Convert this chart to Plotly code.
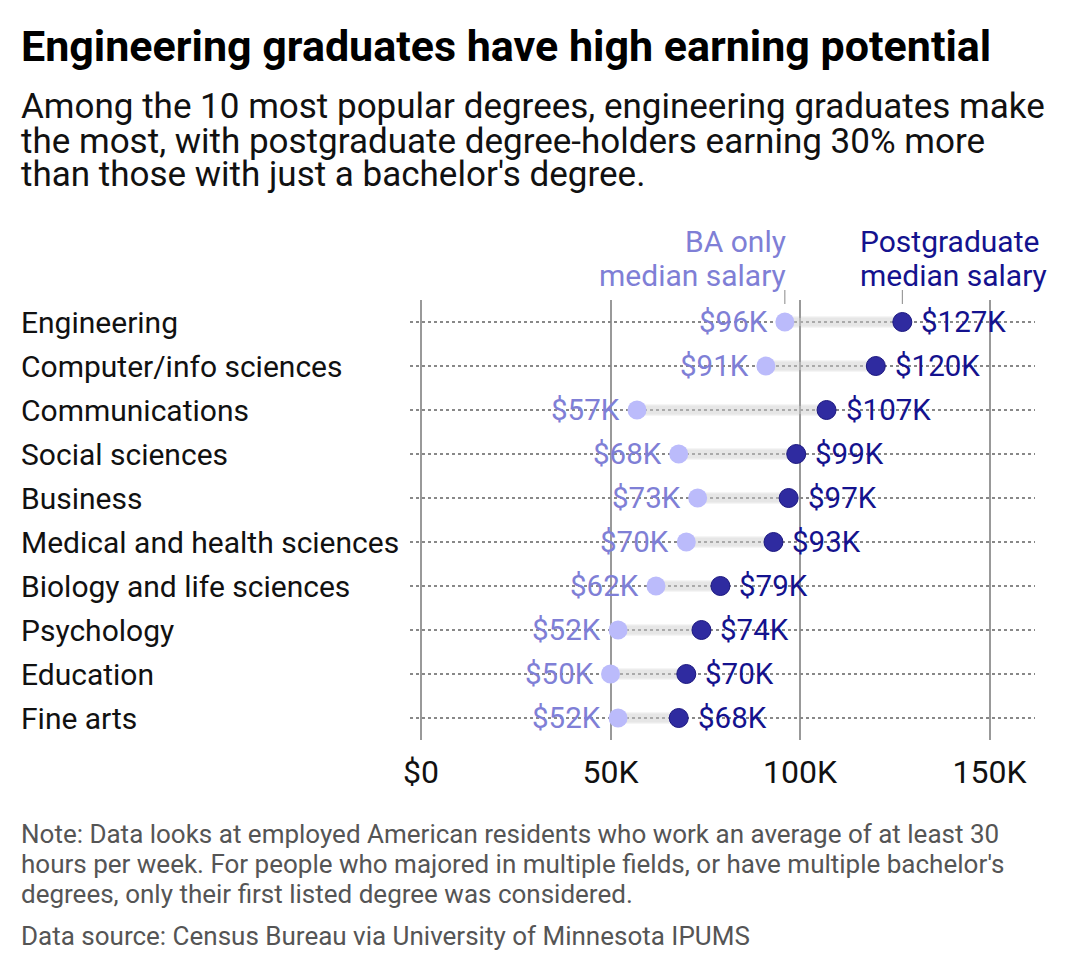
import plotly.graph_objects as go

degrees = ["Engineering", "Computer/info sciences", "Communications", "Social sciences",
           "Business", "Medical and health sciences", "Biology and life sciences",
           "Psychology", "Education", "Fine arts"]
ba_salary = [96, 91, 57, 68, 73, 70, 62, 52, 50, 52]
pg_salary = [127, 120, 107, 99, 97, 93, 79, 74, 70, 68]
tick_vals = [0, 50, 100, 150]
tick_text = ["$0", "50K", "100K", "150K"]

BA_DOT = "#bbbbfb"
BA_TXT = "#7f7fd6"
PG_DOT = "#2f2ba0"
PG_TXT = "#14128e"

# page body has an 8px margin, so the figure is drawn 8px smaller
# plot area in screen pixels: x 410..1035, y 300..740
def px(x):
    return (x - 410) / 625

def py(y):
    return (740 - y) / 440

fig = go.Figure()

# connectors (semi-transparent so the grid shows through, like the original)
cx, cy = [], []
for d, a, b in zip(degrees, ba_salary, pg_salary):
    cx += [a, b, None]
    cy += [d, d, None]
fig.add_trace(go.Scatter(x=cx, y=cy, mode="lines", line=dict(color="rgba(170,170,170,0.22)", width=11),
                         hoverinfo="skip", showlegend=False))
fig.add_trace(go.Scatter(x=cx, y=cy, mode="lines", line=dict(color="rgba(220,220,220,0.35)", width=8),
                         hoverinfo="skip", showlegend=False))

fig.add_trace(go.Scatter(
    x=ba_salary, y=degrees, mode="markers",
    marker=dict(size=19, color=BA_DOT, line=dict(width=0)),
    name="BA only", showlegend=False))
fig.add_trace(go.Scatter(
    x=pg_salary, y=degrees, mode="markers",
    marker=dict(size=19, color=PG_DOT, line=dict(width=1, color="#1c1880")),
    name="Postgraduate", showlegend=False))

annotations = []
# category labels and value labels
for d, a, b in zip(degrees, ba_salary, pg_salary):
    annotations.append(dict(x=px(19), xref="paper", y=d, yref="y", text=d, showarrow=False,
                            xanchor="left", yanchor="middle",
                            font=dict(family="Roboto", size=30, color="#111111")))
    annotations.append(dict(x=a, xref="x", y=d, yref="y", text="$%dK" % a, showarrow=False,
                            xanchor="right", yanchor="middle", xshift=-15,
                            font=dict(family="Roboto", size=29.5, color=BA_TXT)))
    annotations.append(dict(x=b, xref="x", y=d, yref="y", text="$%dK" % b, showarrow=False,
                            xanchor="left", yanchor="middle", xshift=17,
                            font=dict(family="Roboto", size=29.5, color=PG_TXT)))

def text_at(x, y, text, size, color, anchor="left", bold=False):
    t = "<b>%s</b>" % text if bold else text
    annotations.append(dict(x=px(x), xref="paper", y=py(y), yref="paper", text=t,
                            showarrow=False, xanchor=anchor, yanchor="middle",
                            font=dict(family="Roboto", size=size, color=color)))

text_at(19, 46, "Engineering graduates have high earning potential", 43, "#000000", bold=True)
text_at(19, 107, "Among the 10 most popular degrees, engineering graduates make", 35, "#111111")
text_at(19, 141, "the most, with postgraduate degree-holders earning 30% more", 35, "#111111")
text_at(19, 175, "than those with just a bachelor's degree.", 35, "#111111")

text_at(788, 241, "BA only", 30, BA_TXT, anchor="right")
text_at(788, 275, "median salary", 30, BA_TXT, anchor="right")
text_at(858, 241, "Postgraduate", 30, PG_TXT)
text_at(858, 275, "median salary", 30, PG_TXT)

text_at(19, 834, "Note: Data looks at employed American residents who work an average of at least 30", 26, "#555555")
text_at(19, 864, "hours per week. For people who majored in multiple fields, or have multiple bachelor's", 26, "#555555")
text_at(19, 894, "degrees, only their first listed degree was considered.", 26, "#555555")
text_at(19, 936, "Data source: Census Bureau via University of Minnesota IPUMS", 26, "#555555")

shapes = [
    dict(type="line", xref="x", yref="paper", x0=ba_salary[0], x1=ba_salary[0],
         y0=py(304), y1=py(290), line=dict(color="#888888", width=1)),
    dict(type="line", xref="x", yref="paper", x0=pg_salary[0], x1=pg_salary[0],
         y0=py(304), y1=py(290), line=dict(color="#888888", width=1)),
]

fig.update_layout(
    width=1072, height=962,
    margin=dict(l=402, r=45, t=292, b=230),
    plot_bgcolor="white", paper_bgcolor="white",
    annotations=annotations, shapes=shapes,
    xaxis=dict(range=[-2.9, 162], tickvals=tick_vals, ticktext=tick_text,
               showgrid=True, gridcolor="#999999", gridwidth=1.5, zeroline=False,
               showline=False, ticks="", tickfont=dict(family="Roboto", size=32, color="#111111"),
               ticklabelstandoff=10),
    yaxis=dict(categoryorder="array", categoryarray=degrees[::-1], range=[-0.5, 9.5],
               showgrid=True, gridcolor="#888888", gridwidth=1.5, griddash="dot",
               showticklabels=False, zeroline=False, showline=False, ticks=""),
    font=dict(family="Roboto"),
)

fig.write_html("out.html")
